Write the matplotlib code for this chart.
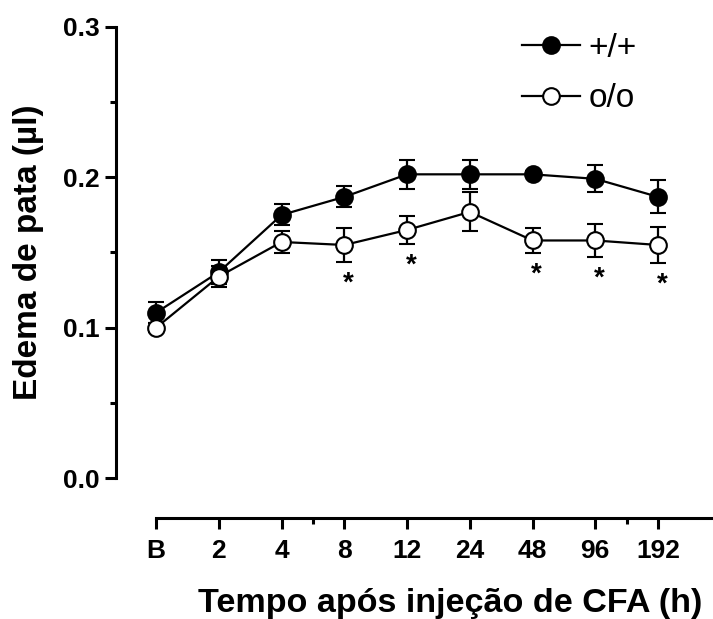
import numpy as np
import matplotlib.pyplot as plt
from matplotlib.lines import Line2D

plt.rcParams['font.family'] = ['Liberation Sans', 'DejaVu Sans']

# Tempo após CFA (h)
tempos = ['B', '2', '4', '8', '12', '24', '48', '96', '192']

# Edema (µl), média e EPM
wt_media = [0.110, 0.137, 0.175, 0.187, 0.202, 0.202, 0.202, 0.199, 0.187]
wt_epm = [0.007, 0.008, 0.007, 0.007, 0.0095, 0.0095, 0.002, 0.009, 0.011]
ko_media = [0.100, 0.134, 0.157, 0.155, 0.165, 0.177, 0.158, 0.158, 0.155]
ko_epm = [0.003, 0.007, 0.0075, 0.0115, 0.0095, 0.013, 0.0085, 0.011, 0.012]

# pontos com diferença significativa (*)
signif = [3, 4, 6, 7, 8]

x = np.arange(len(tempos))

fig = plt.figure(figsize=(7.13, 6.19), dpi=100)
ax = fig.add_axes([116 / 713, 141 / 619, 596 / 713, 451 / 619])

lw = 1.6
ax.errorbar(x, wt_media, yerr=wt_epm, color='black', lw=lw, elinewidth=lw,
            capsize=6, capthick=lw, marker='o', ms=12, mfc='black', mec='black',
            mew=1.5, zorder=3, clip_on=False)
ax.errorbar(x, ko_media, yerr=ko_epm, color='black', lw=lw, elinewidth=lw,
            capsize=6, capthick=lw, marker='o', ms=12, mfc='white', mec='black',
            mew=1.5, zorder=4, clip_on=False)

for i in signif:
    ax.annotate('*', xy=(x[i], ko_media[i] - ko_epm[i]), xytext=(3, -6),
                textcoords='offset points', ha='center', va='top',
                fontsize=20, fontweight='bold')

ax.set_xlim(-0.64, 8.86)
ax.set_ylim(0, 0.3)

for s in ['top', 'right']:
    ax.spines[s].set_visible(False)
ax.spines['left'].set_linewidth(2.2)
ax.spines['bottom'].set_linewidth(2.2)
ax.spines['left'].set_bounds(0, 0.3)
ax.spines['bottom'].set_bounds(0, 8.86)
ax.spines['bottom'].set_position(('outward', 29))

ax.set_yticks([0.0, 0.1, 0.2, 0.3])
ax.set_yticklabels(['0.0', '0.1', '0.2', '0.3'])
ax.set_yticks([0.05, 0.15, 0.25], minor=True)
ax.set_xticks(x)
ax.set_xticklabels(tempos)
ax.set_xticks([2.5, 7.5], minor=True)

ax.tick_params(which='major', length=8, width=2.2, labelsize=19, pad=4)
ax.tick_params(axis='x', which='major', pad=7)
ax.tick_params(which='minor', length=4, width=2.2)
for lab in ax.get_xticklabels() + ax.get_yticklabels():
    lab.set_fontweight('bold')

fig.text(450 / 713, 1 - 612 / 619, 'Tempo após injeção de CFA (h)',
         ha='center', va='baseline', fontsize=24.6, fontweight='bold')
fig.text(29 / 713, 1 - 252 / 619, 'Edema de pata (µl)', rotation=90,
         ha='center', va='center', fontsize=24, fontweight='bold')

handles = [
    Line2D([], [], color='black', lw=lw, marker='o', ms=12, mfc='black',
           mec='black', mew=1.5),
    Line2D([], [], color='black', lw=lw, marker='o', ms=12, mfc='white',
           mec='black', mew=1.5),
]
ax.legend(handles, ['+/+', 'o/o'], loc='upper left',
          bbox_to_anchor=(0.681, 0.987), frameon=False, fontsize=24,
          borderpad=0, borderaxespad=0, handlelength=1.75,
          handletextpad=0.25, labelspacing=0.58)

fig.savefig('out.png', dpi=100)
